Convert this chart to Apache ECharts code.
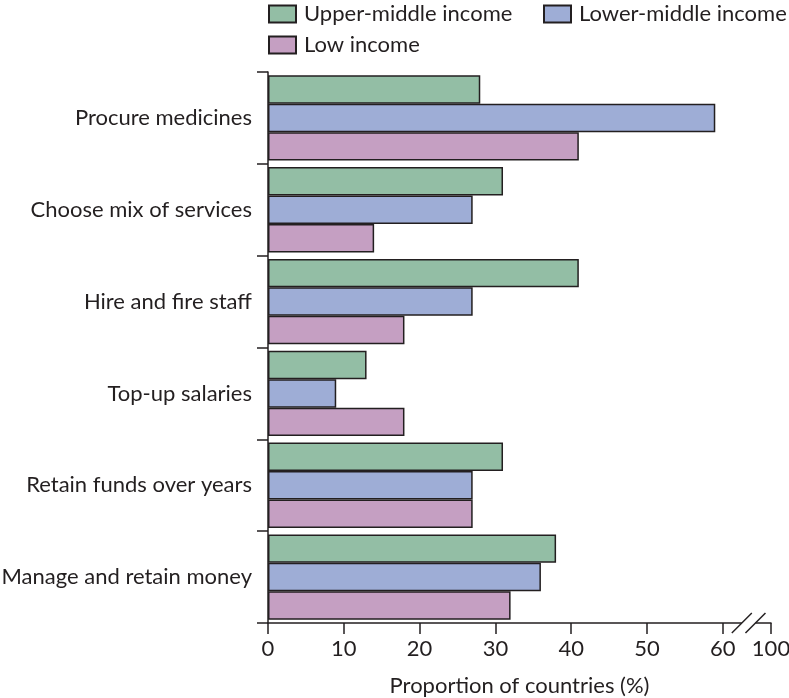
<!DOCTYPE html>
<html>
<head>
<meta charset="utf-8">
<script src="https://cdn.jsdelivr.net/npm/echarts@6/dist/echarts.min.js"></script>
<style>html,body{margin:0;padding:0;background:#fff}#c{width:789px;height:698px}</style>
</head>
<body>
<div id="c"></div>
<script>
const categories = ['Procure medicines','Choose mix of services','Hire and fire staff','Top-up salaries','Retain funds over years','Manage and retain money'];
const seriesNames = ['Upper-middle income','Lower-middle income','Low income'];
const upperMiddle = [28, 31, 41, 13, 31, 38];
const lowerMiddle = [59, 27, 27, 9, 27, 36];
const lowIncome = [41, 14, 18, 18, 27, 32];
// broken axis: 0-60 linear, then a break, the end tick stands for 100
const tickValues = [0, 10, 20, 30, 40, 50, 60, 66.35];
const tickLabels = ['0', '10', '20', '30', '40', '50', '60', '100'];
const axisMax = 66.35;
const breakFrom = 62.5, breakTo = 64.3;

const colors = ['#93bea5', '#9eadd6', '#c59fc2'];
const ink = '#231f20';
const FONT = 'Lato';

const chart = echarts.init(document.getElementById('c'), null, {renderer: 'canvas'});
const mk = (name, data, i) => ({
  name, type: 'bar', data,
  barGap: 0, barCategoryGap: '7%',
  itemStyle: {color: colors[i], borderColor: ink, borderWidth: 1.5},
  emphasis: {disabled: true}
});
const legendText = {color: ink, fontSize: 22, fontFamily: FONT, padding: [0, 0, 0, 3]};
const lg = (name, left, top) => ({data: [name], left, top, itemWidth: 27, itemHeight: 17, icon: 'rect', textStyle: legendText, padding: 0});
chart.setOption({
  animation: false,
  textStyle: {fontFamily: FONT},
  legend: [lg(seriesNames[0], 268, 3), lg(seriesNames[1], 543, 3), lg(seriesNames[2], 268, 34)],
  grid: {left: 268, right: 18, top: 72, bottom: 75, containLabel: false, outerBoundsMode: 'none'},
  xAxis: {
    type: 'value', min: 0, max: axisMax,
    name: 'Proportion of countries (%)', nameLocation: 'middle', nameGap: 52,
    nameTextStyle: {color: ink, fontSize: 22, fontFamily: FONT},
    axisLine: {show: true, lineStyle: {color: ink, width: 1.5}},
    axisTick: {show: true, length: 11, lineStyle: {color: ink, width: 1.5}, customValues: tickValues},
    axisLabel: {color: ink, fontSize: 22, fontFamily: FONT, margin: 15, customValues: tickValues,
      formatter: v => tickLabels[tickValues.indexOf(v)] ?? ''},
    splitLine: {show: false}
  },
  yAxis: {
    type: 'category', inverse: true, data: categories,
    axisLine: {show: true, lineStyle: {color: ink, width: 1.5}},
    axisTick: {show: true, length: 11, lineStyle: {color: ink, width: 1.5}},
    axisLabel: {color: ink, fontSize: 22, fontFamily: FONT, margin: 16},
    splitLine: {show: false}
  },
  series: [mk(seriesNames[0], upperMiddle, 0), mk(seriesNames[1], lowerMiddle, 1), mk(seriesNames[2], lowIncome, 2)]
});

// draw the axis-break marks from the library's own scale
const rect = chart.getModel().getComponent('grid', 0).coordinateSystem.getRect();
const yAx = rect.y + rect.height;
const x1 = chart.convertToPixel({xAxisIndex: 0}, breakFrom);
const x2 = chart.convertToPixel({xAxisIndex: 0}, breakTo);
chart.setOption({
  graphic: [
    {type: 'rect', shape: {x: x1, y: yAx - 3, width: x2 - x1, height: 6}, style: {fill: '#fff'}, z: 100},
    {type: 'line', shape: {x1: x1 - 10, y1: yAx + 10, x2: x1 + 10, y2: yAx - 10}, style: {stroke: ink, lineWidth: 1.5}, z: 101},
    {type: 'line', shape: {x1: x2 - 10, y1: yAx + 10, x2: x2 + 10, y2: yAx - 10}, style: {stroke: ink, lineWidth: 1.5}, z: 101}
  ]
});
</script>
</body>
</html>
